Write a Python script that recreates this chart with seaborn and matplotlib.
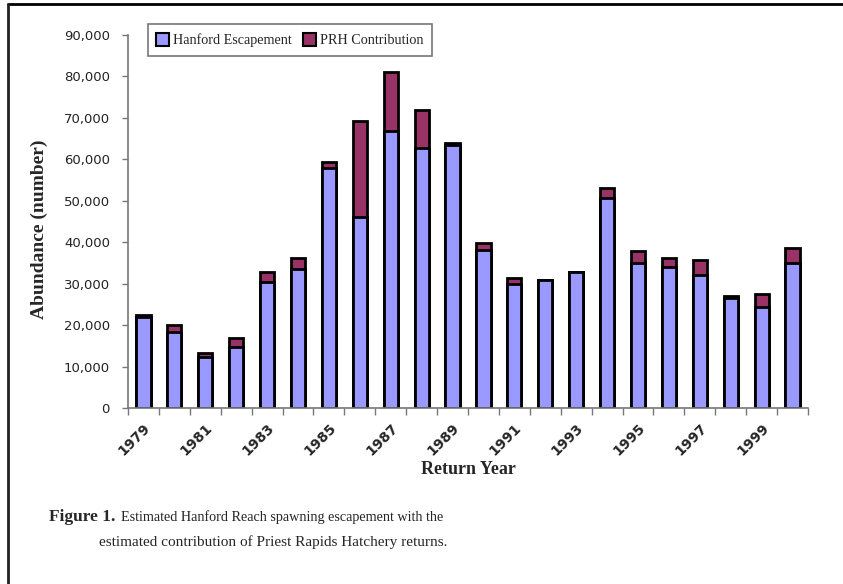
import pandas as pd
import seaborn as sns
import matplotlib.pyplot as plt
from matplotlib.lines import Line2D
from matplotlib.patches import Patch

sns.set_style("white")

years = list(range(1979, 2001))
hanford = [22000, 18300, 12400, 14700, 30300, 33600, 58000, 46000, 66900, 62700, 63400,
           38200, 29900, 30900, 32800, 50600, 35000, 34000, 32200, 26600, 24300, 35000]
prh = [500, 1700, 800, 2300, 2400, 2700, 1400, 23200, 14200, 9100, 500,
       1500, 1400, 0, 0, 2400, 2800, 2300, 3400, 500, 3300, 3700]
y_ticks = list(range(0, 90001, 10000))

df = pd.DataFrame({"year": [str(y) for y in years], "hanford": hanford, "prh": prh})
df["total"] = df["hanford"] + df["prh"]

c_han = "#9999FF"
c_prh = "#993366"
serif = "Liberation Serif"

fig = plt.figure(figsize=(8.43, 5.84), dpi=100)
ax = fig.add_axes([128 / 843, 1 - 408 / 584, 680 / 843, 373 / 584])

# total first (PRH colour), Hanford drawn over it so PRH shows as the top segment
sns.barplot(data=df, x="year", y="total", color=c_prh, width=0.46,
            edgecolor="black", linewidth=2, saturation=1, ax=ax)
sns.barplot(data=df, x="year", y="hanford", color=c_han, width=0.46,
            edgecolor="black", linewidth=2, saturation=1, ax=ax)

ax.set_xlim(-0.5, len(years) - 0.5)
ax.set_ylim(0, 90000)
ax.set_yticks(y_ticks)
ax.set_yticklabels([f"{v:,}" for v in y_ticks], fontsize=9.5, color="#222222")
ax.tick_params(axis="y", length=4, width=1, color="#777777", direction="out",
               left=True, pad=9)

pos = list(range(0, len(years), 2))
ax.set_xticks(pos)
ax.set_xticklabels([str(years[i]) for i in pos], rotation=45, ha="right",
                   rotation_mode="anchor", fontsize=10, fontweight="bold")
ax.set_xticks([i - 0.5 for i in range(len(years) + 1)], minor=True)
ax.tick_params(axis="x", which="major", length=0, pad=9)
ax.tick_params(axis="x", which="minor", length=5, width=1, color="#777777",
               direction="out", bottom=True)

for s in ["top", "right"]:
    ax.spines[s].set_visible(False)
for s in ["left", "bottom"]:
    ax.spines[s].set_color("#777777")
    ax.spines[s].set_linewidth(1.2)

ax.set_xlabel("Return Year", fontsize=13, fontweight="bold", family=serif, labelpad=2)
ax.set_ylabel("Abundance (number)", fontsize=14, fontweight="bold", family=serif)
ax.yaxis.set_label_coords(-80 / 680, 0.48)

handles = [Patch(facecolor=c_han, edgecolor="black", linewidth=1.5, label="Hanford Escapement"),
           Patch(facecolor=c_prh, edgecolor="black", linewidth=1.5, label="PRH Contribution")]
leg = fig.legend(handles=handles, loc="center", bbox_to_anchor=(290 / 843, 1 - 40 / 584),
                 ncol=2, frameon=True, fancybox=False, handlelength=0.9, handleheight=1.0,
                 handletextpad=0.3, columnspacing=0.8, borderpad=0.6,
                 prop={"family": serif, "size": 10.2})
leg.get_frame().set_edgecolor("#555555")
leg.get_frame().set_linewidth(1.2)

fig.text(49 / 843, 1 - 517 / 584, "Figure 1.", fontsize=12.5, fontweight="bold",
         family=serif, va="center")
fig.text(121 / 843, 1 - 517 / 584,
         "Estimated Hanford Reach spawning escapement with the",
         fontsize=10.2, family=serif, va="center")
fig.text(99 / 843, 1 - 542 / 584,
         "estimated contribution of Priest Rapids Hatchery returns.",
         fontsize=11, family=serif, va="center")

fig.add_artist(Line2D([8 / 843, 1], [1 - 4 / 584, 1 - 4 / 584], color="black", lw=2))
fig.add_artist(Line2D([8 / 843, 8 / 843], [0, 1 - 4 / 584], color="#222222", lw=2))

fig.savefig("out.png", dpi=100)
